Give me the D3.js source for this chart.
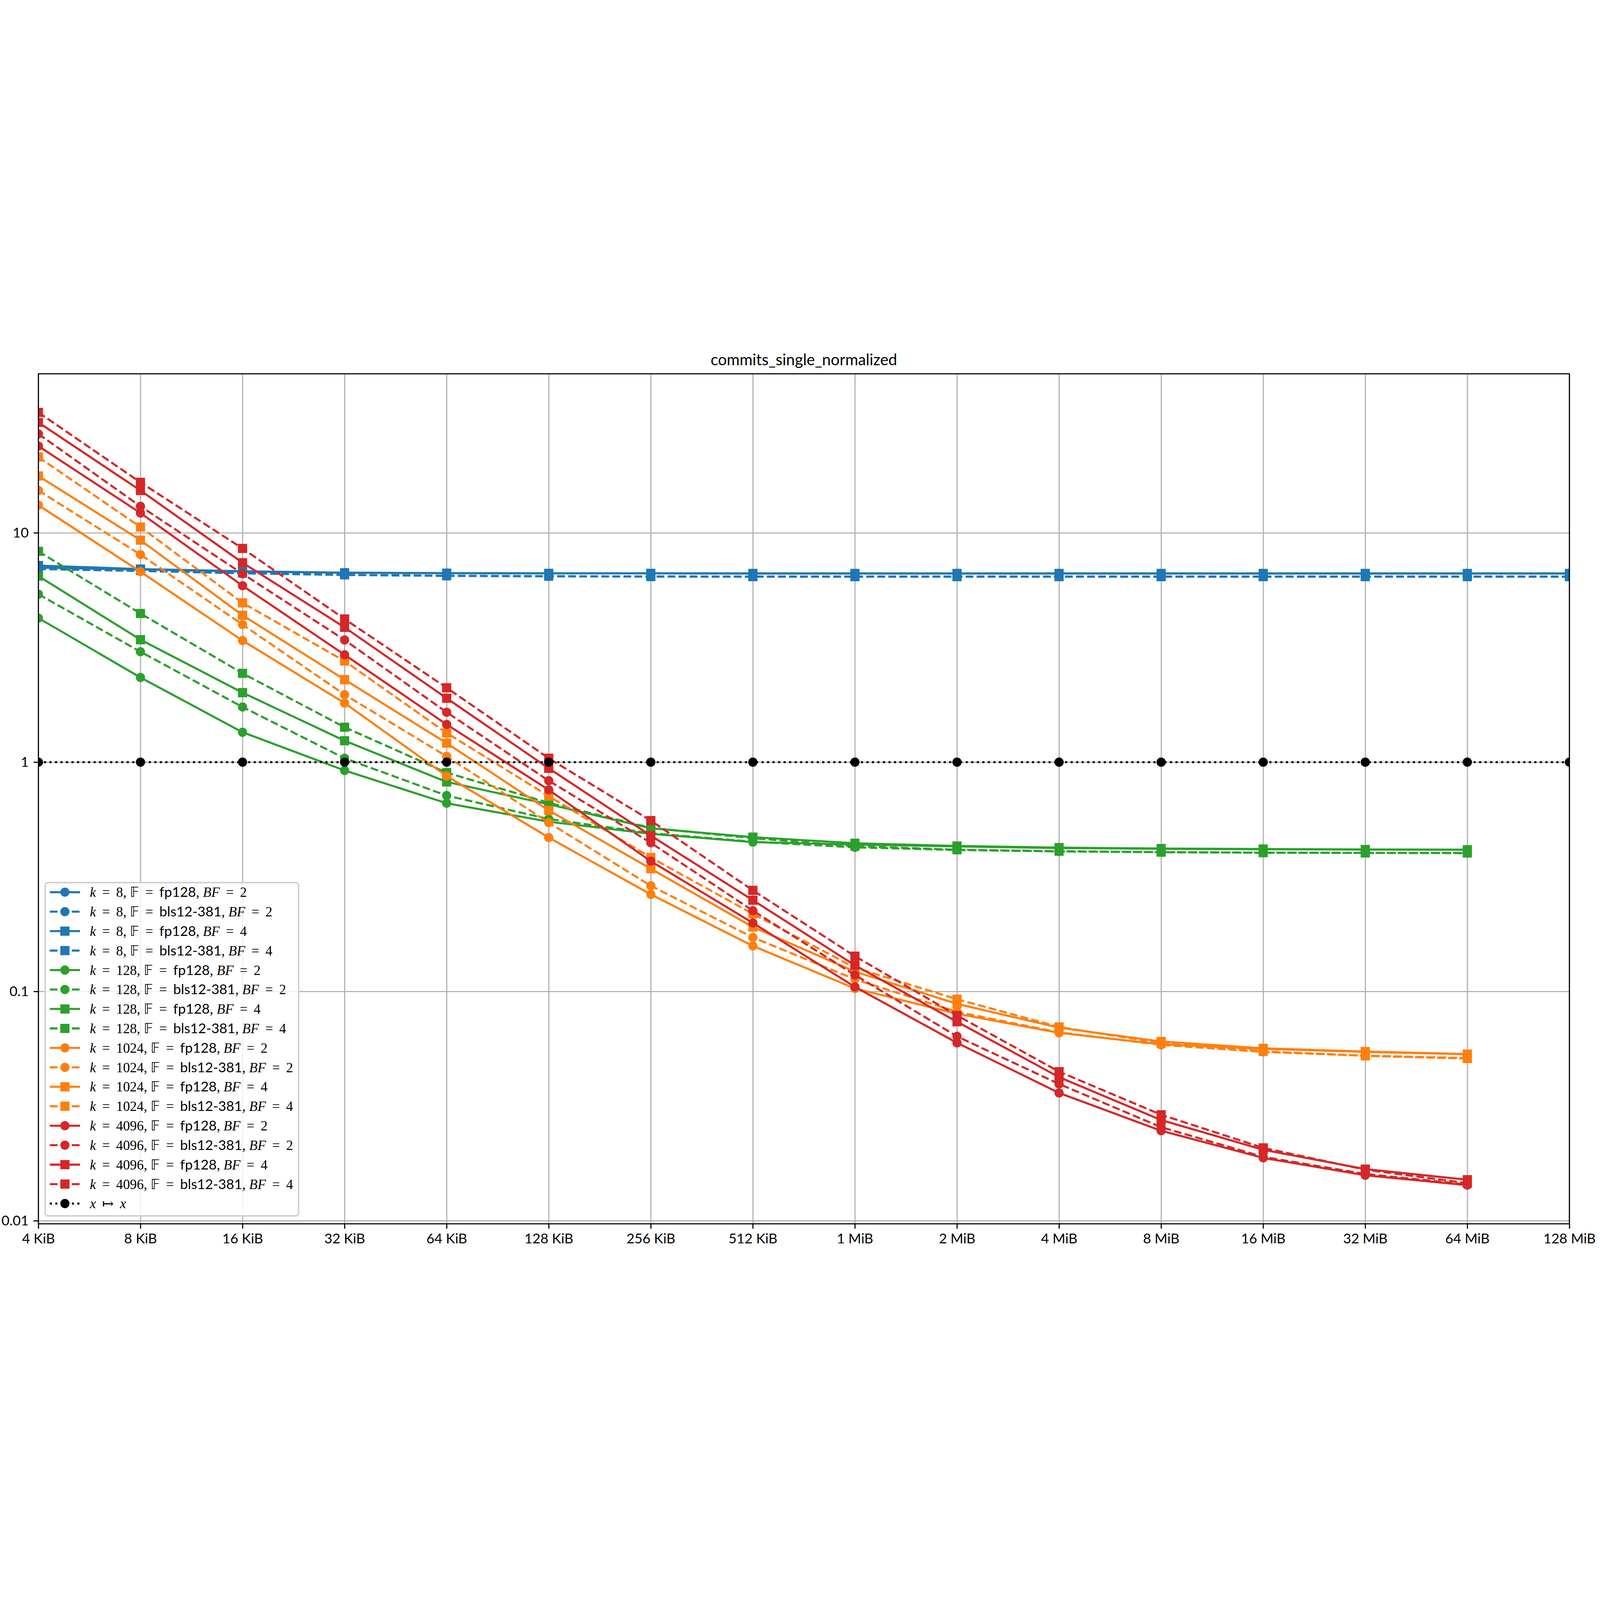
<!DOCTYPE html>
<html>
<head>
<meta charset="utf-8">
<script src="https://cdn.jsdelivr.net/npm/d3@7"></script>
<style>
  html, body { margin: 0; padding: 0; width: 100%; height: 100%; overflow: hidden; background: #fff; }
  #chart { display: block; width: 100vw; height: 100vh; }
  text { white-space: pre; }
</style>
</head>
<body>
<svg id="chart" viewBox="0 0 8000 4500" preserveAspectRatio="xMidYMid meet"></svg>
<script>
// x categories (message size in KiB) and their tick labels
var sizeKiB = [4, 8, 16, 32, 64, 128, 256, 512, 1024, 2048, 4096, 8192, 16384, 32768, 65536, 131072];
var sizeLabels = ["4 KiB", "8 KiB", "16 KiB", "32 KiB", "64 KiB", "128 KiB", "256 KiB", "512 KiB",
    "1 MiB", "2 MiB", "4 MiB", "8 MiB", "16 MiB", "32 MiB", "64 MiB", "128 MiB"];
var yTickValues = [0.01, 0.1, 1, 10];
var yTickLabels = ["0.01", "0.1", "1", "10"];

// k = 8
var k8_fp128_bf2 = [7.05, 6.92, 6.78, 6.70, 6.67, 6.66, 6.66, 6.65, 6.65, 6.65, 6.65, 6.65, 6.65, 6.65, 6.65, 6.65];
var k8_bls_bf2   = [6.95, 6.82, 6.66, 6.55, 6.49, 6.46, 6.45, 6.44, 6.44, 6.44, 6.44, 6.44, 6.44, 6.44, 6.44, 6.44];
var k8_fp128_bf4 = [7.20, 6.95, 6.80, 6.70, 6.67, 6.66, 6.66, 6.65, 6.65, 6.65, 6.65, 6.65, 6.65, 6.65, 6.65, 6.65];
var k8_bls_bf4   = [7.00, 6.85, 6.68, 6.56, 6.50, 6.47, 6.45, 6.44, 6.44, 6.44, 6.44, 6.44, 6.44, 6.44, 6.44, 6.44];
// k = 128
var k128_fp128_bf2 = [4.25, 2.34, 1.35, 0.92, 0.662, 0.550, 0.487, 0.448, 0.437, 0.429, 0.422, 0.419, 0.417, 0.416, 0.415];
var k128_bls_bf2   = [5.40, 3.03, 1.74, 1.04, 0.715, 0.565, 0.490, 0.450, 0.425, 0.414, 0.408, 0.405, 0.403, 0.402, 0.401];
var k128_fp128_bf4 = [6.48, 3.42, 2.01, 1.24, 0.820, 0.655, 0.515, 0.471, 0.443, 0.431, 0.424, 0.420, 0.418, 0.416, 0.415];
var k128_bls_bf4   = [8.30, 4.45, 2.44, 1.42, 0.900, 0.665, 0.517, 0.466, 0.430, 0.415, 0.409, 0.405, 0.403, 0.402, 0.402];
// k = 1024
var k1024_fp128_bf2 = [13.2, 6.77, 3.39, 1.81, 0.870, 0.469, 0.265, 0.158, 0.103, 0.0800, 0.0660, 0.0588, 0.0562, 0.0545, 0.0533];
var k1024_bls_bf2   = [15.3, 8.04, 3.98, 1.97, 1.06, 0.545, 0.289, 0.172, 0.113, 0.0815, 0.0663, 0.0585, 0.0545, 0.0525, 0.0512];
var k1024_fp128_bf4 = [17.7, 9.29, 4.37, 2.29, 1.21, 0.616, 0.343, 0.191, 0.122, 0.0883, 0.0695, 0.0605, 0.0565, 0.0547, 0.0533];
var k1024_bls_bf4   = [21.4, 10.6, 4.95, 2.76, 1.34, 0.711, 0.384, 0.218, 0.127, 0.0925, 0.0700, 0.0595, 0.0548, 0.0524, 0.0510];
// k = 4096
var k4096_fp128_bf2 = [23.9, 12.2, 5.88, 2.94, 1.46, 0.757, 0.370, 0.199, 0.1047, 0.0597, 0.0361, 0.0247, 0.0188, 0.0158, 0.0143];
var k4096_bls_bf2   = [27.0, 13.05, 6.63, 3.41, 1.65, 0.830, 0.445, 0.225, 0.118, 0.0637, 0.0395, 0.0256, 0.0190, 0.0160, 0.0144];
var k4096_fp128_bf4 = [30.3, 15.3, 7.41, 3.87, 1.90, 0.940, 0.478, 0.250, 0.130, 0.0738, 0.0423, 0.0275, 0.0204, 0.0168, 0.0151];
var k4096_bls_bf4   = [33.5, 16.6, 8.55, 4.21, 2.11, 1.04, 0.556, 0.276, 0.1425, 0.0786, 0.0447, 0.0290, 0.0208, 0.0167, 0.0146];
// reference x -> x
var identity = [1, 1, 1, 1, 1, 1, 1, 1, 1, 1, 1, 1, 1, 1, 1, 1];

var colors = { 8: "#1f77b4", 128: "#2ca02c", 1024: "#ff7f0e", 4096: "#d62728" };

var series = [
    { k: "8", field: "fp128", bf: "2", values: k8_fp128_bf2 },
    { k: "8", field: "bls12-381", bf: "2", values: k8_bls_bf2 },
    { k: "8", field: "fp128", bf: "4", values: k8_fp128_bf4 },
    { k: "8", field: "bls12-381", bf: "4", values: k8_bls_bf4 },
    { k: "128", field: "fp128", bf: "2", values: k128_fp128_bf2 },
    { k: "128", field: "bls12-381", bf: "2", values: k128_bls_bf2 },
    { k: "128", field: "fp128", bf: "4", values: k128_fp128_bf4 },
    { k: "128", field: "bls12-381", bf: "4", values: k128_bls_bf4 },
    { k: "1024", field: "fp128", bf: "2", values: k1024_fp128_bf2 },
    { k: "1024", field: "bls12-381", bf: "2", values: k1024_bls_bf2 },
    { k: "1024", field: "fp128", bf: "4", values: k1024_fp128_bf4 },
    { k: "1024", field: "bls12-381", bf: "4", values: k1024_bls_bf4 },
    { k: "4096", field: "fp128", bf: "2", values: k4096_fp128_bf2 },
    { k: "4096", field: "bls12-381", bf: "2", values: k4096_bls_bf2 },
    { k: "4096", field: "fp128", bf: "4", values: k4096_fp128_bf4 },
    { k: "4096", field: "bls12-381", bf: "4", values: k4096_bls_bf4 }
].map(function (s) {
    s.color = colors[s.k];
    s.dash = s.field === "bls12-381" ? "38.5,16.7" : null;
    s.symbol = s.bf === "2" ? d3.symbolCircle : d3.symbolSquare;
    return s;
});
series.push({ identity: true, values: identity, color: "#000", dash: "10.4,17.2", symbol: d3.symbolCircle });

var svg = d3.select("#chart"),
    width = 8000,
    height = 4500,
    margin = { top: 119, right: 153, bottom: 131, left: 192 },
    plotLeft = margin.left, plotRight = width - margin.right,
    plotTop = margin.top, plotBottom = height - margin.bottom;

var sansFont = "Lato, 'Open Sans', sans-serif",
    serifFont = "'Liberation Serif', 'DejaVu Serif', serif";

// log axis limits with matplotlib-like 5% margins (in log space)
var allVals = [];
series.forEach(function (s) { allVals = allVals.concat(s.values); });
var lo = Math.log10(d3.min(allVals)), hi = Math.log10(d3.max(allVals)), pad = 0.05 * (hi - lo);

var x = d3.scaleLog().base(2)
    .domain([sizeKiB[0], sizeKiB[sizeKiB.length - 1]])
    .range([plotLeft, plotRight]);

var y = d3.scaleLog()
    .domain([Math.pow(10, lo - pad), Math.pow(10, hi + pad)])
    .range([plotBottom, plotTop]);

svg.append("rect").attr("width", width).attr("height", height).attr("fill", "#fff");

svg.append("defs").append("clipPath").attr("id", "plotclip")
    .append("rect").attr("x", plotLeft).attr("y", plotTop)
    .attr("width", plotRight - plotLeft).attr("height", plotBottom - plotTop);

// grid
var gx = svg.append("g")
    .attr("transform", "translate(0," + plotBottom + ")")
    .call(d3.axisBottom(x).tickValues(sizeKiB).tickFormat("").tickSize(-(plotBottom - plotTop)));
var gy = svg.append("g")
    .attr("transform", "translate(" + plotLeft + ",0)")
    .call(d3.axisLeft(y).tickValues(yTickValues).tickFormat("").tickSize(-(plotRight - plotLeft)));
[gx, gy].forEach(function (g) {
    g.select(".domain").remove();
    g.selectAll("line").attr("stroke", "#b0b0b0").attr("stroke-width", 5.6);
});

// series
var line = d3.line()
    .x(function (d) { return x(d[0]); })
    .y(function (d) { return y(d[1]); });

var markSize = function (sym) { return sym === d3.symbolCircle ? Math.PI * 21 * 21 : 42 * 42; };

var plot = svg.append("g").attr("clip-path", "url(#plotclip)");

series.forEach(function (s) {
    var pts = s.values.map(function (v, i) { return [sizeKiB[i], v]; });
    var g = plot.append("g");
    g.append("path")
        .datum(pts)
        .attr("fill", "none")
        .attr("stroke", s.color)
        .attr("stroke-width", 10.4)
        .attr("stroke-linejoin", "round")
        .attr("stroke-dasharray", s.dash)
        .attr("d", line);
    g.selectAll("path.mark")
        .data(pts)
        .enter().append("path")
        .attr("class", "mark")
        .attr("transform", function (d) { return "translate(" + x(d[0]) + "," + y(d[1]) + ")"; })
        .attr("d", d3.symbol().type(s.symbol).size(markSize(s.symbol)))
        .attr("fill", s.color)
        .attr("stroke", s.color)
        .attr("stroke-width", 4);
});

// axes with tick labels
var ax = svg.append("g")
    .attr("transform", "translate(0," + plotBottom + ")")
    .call(d3.axisBottom(x).tickValues(sizeKiB)
        .tickFormat(function (d, i) { return sizeLabels[i]; })
        .tickSize(24.3).tickPadding(24.3));
var ay = svg.append("g")
    .attr("transform", "translate(" + plotLeft + ",0)")
    .call(d3.axisLeft(y).tickValues(yTickValues)
        .tickFormat(function (d, i) { return yTickLabels[i]; })
        .tickSize(24.3).tickPadding(24.3));
[ax, ay].forEach(function (g) {
    g.select(".domain").remove();
    g.selectAll("line").attr("stroke", "#000").attr("stroke-width", 5.6);
    g.selectAll("text").attr("font-size", 69).attr("font-family", sansFont).attr("fill", "#000");
});

// spines
svg.append("rect")
    .attr("x", plotLeft).attr("y", plotTop)
    .attr("width", plotRight - plotLeft).attr("height", plotBottom - plotTop)
    .attr("fill", "none").attr("stroke", "#000").attr("stroke-width", 5.6);

// title
svg.append("text")
    .attr("x", (plotLeft + plotRight) / 2).attr("y", plotTop - 42)
    .attr("text-anchor", "middle")
    .attr("font-family", sansFont).attr("font-size", 78)
    .text("commits_single_normalized");

// legend
var legTop = 2663, legLeft = 226, rowH = 97.3, firstRow = 48;
var legend = svg.append("g");
var legBox = legend.append("rect")
    .attr("x", legLeft).attr("y", legTop)
    .attr("rx", 14).attr("ry", 14)
    .attr("fill", "rgba(255,255,255,0.8)")
    .attr("stroke", "#cccccc").attr("stroke-width", 6.9);

var eq = " \u2009=\u2009 ";
function labelParts(s) {
    if (s.identity) {
        return [["x", "it"], [" \u2009\u21A6\u2009 ", "rm"], ["x", "it"]];
    }
    return [["k", "it"], [eq + s.k + ", ", "rm"], ["\uD835\uDD3D", "bb"], [eq, "rm"],
        [s.field, "sf"], [", ", "rm"], ["BF", "it"], [eq + s.bf, "rm"]];
}

var maxW = 0;
series.forEach(function (s, i) {
    var cy = legTop + firstRow + i * rowH;
    legend.append("line")
        .attr("x1", 249).attr("x2", 400).attr("y1", cy).attr("y2", cy)
        .attr("stroke", s.color).attr("stroke-width", 10.4)
        .attr("stroke-dasharray", s.dash);
    legend.append("path")
        .attr("transform", "translate(324.5," + cy + ")")
        .attr("d", d3.symbol().type(s.symbol).size(markSize(s.symbol)))
        .attr("fill", s.color).attr("stroke", s.color).attr("stroke-width", 4);
    var t = legend.append("text")
        .attr("x", 449).attr("y", cy + 24)
        .attr("font-size", 69).attr("fill", "#000");
    labelParts(s).forEach(function (p) {
        var span = t.append("tspan").text(p[0]);
        if (p[1] === "it") span.attr("font-family", serifFont).attr("font-style", "italic");
        else if (p[1] === "rm") span.attr("font-family", serifFont);
        else if (p[1] === "bb") span.attr("font-family", "'DejaVu Sans', serif");
        else span.attr("font-family", sansFont);
    });
    maxW = Math.max(maxW, t.node().getComputedTextLength());
});
legBox.attr("width", 449 + maxW + 28 - legLeft)
    .attr("height", firstRow + 16 * rowH + 62);
</script>
</body>
</html>
